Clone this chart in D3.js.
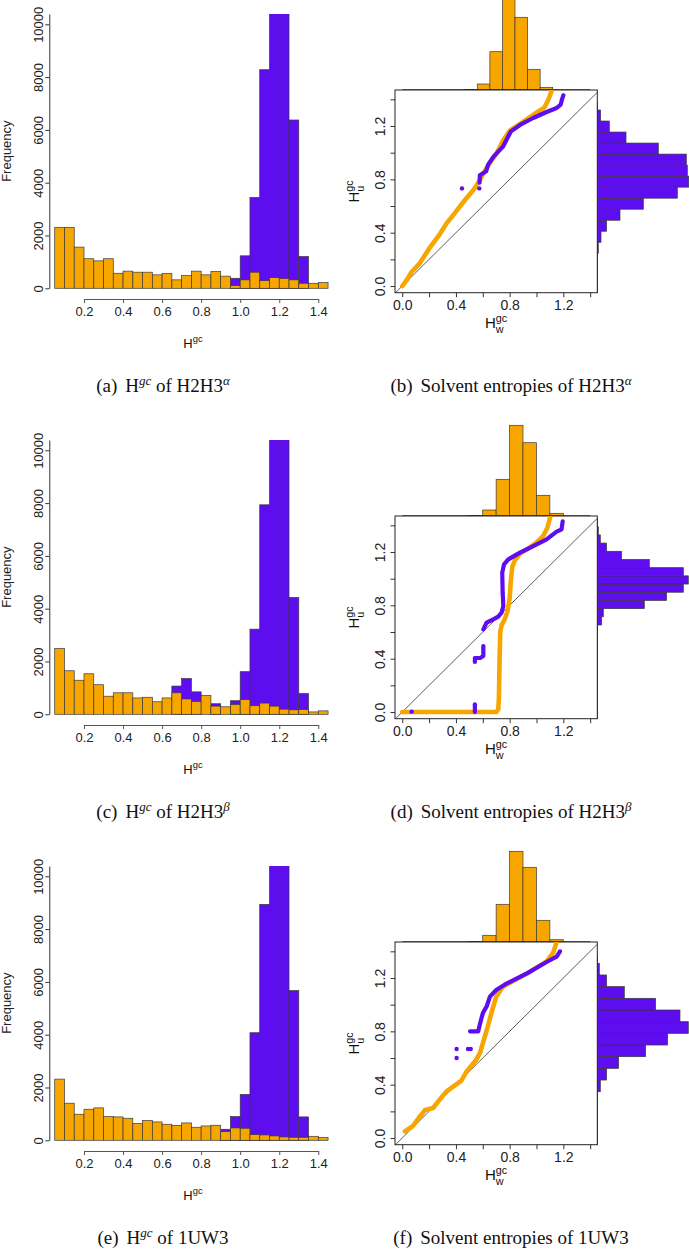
<!DOCTYPE html>
<html><head><meta charset="utf-8">
<script src="https://cdn.jsdelivr.net/npm/d3@7"></script>
<style>body{margin:0;background:#fff}svg{display:block}</style>
</head><body>
<svg id="c" width="689" height="1249"></svg>
<script>
// ---------------- DATA ----------------
const binStarts=[0.05,0.10,0.15,0.20,0.25,0.30,0.35,0.40,0.45,0.50,0.55,0.60,0.65,0.70,0.75,0.80,0.85,0.90,0.95,1.00,1.05,1.10,1.15,1.20,1.25,1.30,1.35,1.40];
const binWidth=0.05;
const histXTicks=[0.2,0.4,0.6,0.8,1.0,1.2,1.4];
const histYTicks=[0,2000,4000,6000,8000,10000];

const histA_orange=[2310,2310,1560,1120,1040,1120,570,650,610,610,510,560,320,480,650,510,635,460,100,320,610,290,405,370,320,190,190,215];
const histA_purple=[0,0,0,0,0,0,0,0,0,0,0,0,0,0,0,0,0,0,380,1230,3440,8280,11800,11600,6375,1205,0,0];
const histC_orange=[2490,1650,1290,1535,1120,685,815,815,620,645,475,620,815,580,490,710,310,285,375,555,325,425,310,195,170,180,90,130];
const histC_purple=[0,0,0,0,0,0,0,0,0,0,0,0,1070,1355,850,0,400,0,515,1615,3225,7935,11800,11700,4425,785,0,0];
const histE_orange=[2317,1405,987,1177,1228,899,886,835,633,747,696,608,557,658,494,544,570,329,468,456,215,203,165,127,114,114,152,101];
const histE_purple=[0,0,0,0,0,0,0,0,0,0,0,0,0,0,0,0,0,418,899,1740,4075,8937,11800,11600,5671,886,0,0];

const scatTicks=[0,0.2,0.4,0.6,0.8,1.0,1.2,1.4];
const scatLabels=[0,0.4,0.8,1.2];

// Q-Q curves (H_w, H_u)
const qqB_orange=[[0,0],[0.03,0.04],[0.07,0.105],[0.13,0.17],[0.2,0.28],[0.28,0.39],[0.33,0.47],[0.39,0.545],[0.455,0.63],[0.53,0.72],[0.57,0.78],[0.63,0.89],[0.70,0.99],[0.75,1.09],[0.80,1.165],[0.9,1.23],[1.0,1.3],[1.06,1.34],[1.09,1.40],[1.115,1.47]];
const qqB_purple=[[0.576,0.775],[0.578,0.83],[0.625,0.86],[0.64,0.91],[0.68,0.97],[0.75,1.045],[0.776,1.095],[0.81,1.16],[0.88,1.21],[0.975,1.26],[1.075,1.305],[1.15,1.335],[1.18,1.36],[1.19,1.40],[1.2,1.43]];
const qqB_dots=[[0.445,0.732],[0.574,0.732]];

const qqD_orange=[[0.0,0.0],[0.70,0.0],[0.715,0.02],[0.72,0.1],[0.725,0.4],[0.73,0.6],[0.74,0.65],[0.765,0.70],[0.785,0.76],[0.80,0.85],[0.81,1.0],[0.82,1.09],[0.84,1.14],[0.88,1.19],[0.93,1.22],[1.0,1.27],[1.05,1.32],[1.08,1.38],[1.105,1.47]];
const qqD_purple=[[0.604,0.62],[0.628,0.67],[0.678,0.695],[0.715,0.715],[0.74,0.745],[0.753,0.795],[0.748,0.895],[0.745,1.045],[0.758,1.1075],[0.79,1.145],[0.877,1.195],[0.976,1.245],[1.075,1.295],[1.15,1.3525],[1.187,1.37],[1.195,1.43]];
const qqD_purple2=[[0.541,0.0],[0.541,0.058]];
const qqD_purple3=[[0.541,0.375],[0.541,0.405],[0.58,0.405],[0.604,0.42],[0.604,0.495]];
const qqD_dots=[[0.07,0.003]];

const qqF_orange=[[0.02,0.05],[0.08,0.09],[0.13,0.16],[0.17,0.21],[0.23,0.225],[0.28,0.29],[0.33,0.35],[0.40,0.40],[0.44,0.43],[0.48,0.50],[0.55,0.585],[0.58,0.64],[0.60,0.71],[0.63,0.81],[0.665,0.94],[0.70,1.06],[0.75,1.135],[0.85,1.19],[0.93,1.235],[1.075,1.325],[1.125,1.39],[1.15,1.47]];
const qqF_purple=[[0.505,0.80],[0.566,0.80],[0.58,0.86],[0.60,0.935],[0.63,0.99],[0.653,1.06],[0.70,1.11],[0.78,1.16],[0.93,1.235],[1.075,1.32],[1.15,1.36],[1.175,1.40]];
const qqF_dots=[[0.405,0.60],[0.405,0.6675],[0.49,0.6675],[0.51,0.6675]];

// marginal histograms (counts)
const margTopBins=[0.5,0.6,0.7,0.8,0.9,1.0,1.1];
const margTopB=[40,600,3830,9500,7270,2070,270];
const margTopD=[40,600,3670,9070,7330,2070,270];
const margTopF=[40,670,3770,9070,7470,2170,230];

const margRightBinsB=[0.2,0.3,0.4,0.5,0.6,0.7,0.8,0.9,1.0,1.1,1.2,1.3,1.4];
const margRightB=[100,370,930,2270,4600,8000,9150,9000,8900,6100,2870,1200,330];
const margRightBinsD=[0.2,0.3,0.4,0.5,0.6,0.7,0.8,0.9,1.0,1.1,1.2,1.3];
const margRightD=[430,600,4700,6930,8600,9100,8600,5200,2430,930,300,100];
const margRightBinsF=[0.3,0.4,0.5,0.6,0.7,0.8,0.9,1.0,1.1,1.2,1.3];
const margRightF=[300,930,2130,4830,7030,9100,8270,5830,2700,930,200];

// ---------------- DRAW ----------------
const svg=d3.select('#c');
const SANS='"Liberation Sans", Arial, Helvetica, sans-serif';
const SERIF='"Liberation Serif", "Times New Roman", serif';
const ORANGE='#F7A600', PURPLE='#5E0CF0', EDGE='#3a3a3a';
const FS=13;
const ROW=426;
let clipId=0;

function mathLabel(parent,x,y,rot,base,sup,sub,size){
  const g=parent.append('g').attr('transform',`translate(${x},${y}) rotate(${rot})`);
  const g2=g.append('g');
  const t=g2.append('text').attr('x',0).attr('y',0).attr('font-family',SANS).attr('font-size',size).attr('fill','#111').text(base);
  const w0=t.node().getComputedTextLength();
  let w1=0;
  if(sup){const s=g2.append('text').attr('x',w0).attr('y',-size*0.42).attr('font-family',SANS).attr('font-size',size*0.72).attr('fill','#111').text(sup);w1=Math.max(w1,s.node().getComputedTextLength());}
  if(sub){const s=g2.append('text').attr('x',w0).attr('y',size*0.3).attr('font-family',SANS).attr('font-size',size*0.72).attr('fill','#111').text(sub);w1=Math.max(w1,s.node().getComputedTextLength());}
  g2.attr('transform',`translate(${-(w0+w1)/2},${size*0.36})`);
}

function drawHist(dy,orange,purple){
  const g=svg.append('g').attr('transform',`translate(0,${dy})`);
  const x=d3.scaleLinear().domain([0.2,1.4]).range([84,318.3]);
  const y=d3.scaleLinear().domain([0,10390]).range([288.3,14]);
  const id='clip'+(clipId++);
  g.append('clipPath').attr('id',id).append('rect').attr('x',40).attr('y',14).attr('width',300).attr('height',280);
  const bars=g.append('g').attr('clip-path',`url(#${id})`);
  [[purple,PURPLE],[orange,ORANGE]].forEach(([vals,col])=>{
    bars.selectAll(null).data(binStarts.map((b,i)=>({b,v:vals[i]})).filter(d=>d.v>0)).join('rect')
      .attr('x',d=>x(d.b)).attr('width',d=>x(d.b+binWidth)-x(d.b))
      .attr('y',d=>y(d.v)).attr('height',d=>y(0)-y(d.v))
      .attr('fill',col).attr('stroke',EDGE).attr('stroke-width',0.7);
  });
  const xa=g.append('g').attr('transform','translate(0,299)')
    .call(d3.axisBottom(x).tickValues(histXTicks).tickSize(4).tickSizeOuter(0).tickPadding(4).tickFormat(d3.format('.1f')));
  xa.selectAll('text').attr('font-family',SANS).attr('font-size',FS).attr('fill','#222');
  xa.selectAll('line,path').attr('stroke','#555');
  const ya=g.append('g').attr('transform','translate(49.3,0)')
    .call(d3.axisLeft(y).tickValues(histYTicks).tickSize(4).tickSizeOuter(0).tickFormat(d3.format('d')));
  ya.selectAll('line,path').attr('stroke','#333');
  ya.selectAll('text').attr('font-family',SANS).attr('font-size',FS).attr('fill','#222')
    .attr('x',0).attr('dy',0).attr('text-anchor','middle').attr('transform','translate(-6,0) rotate(-90)');
  g.append('text').attr('transform',`translate(11,${(14+288.3)/2}) rotate(-90)`).attr('text-anchor','middle')
    .attr('font-family',SANS).attr('font-size',FS).attr('fill','#222').text('Frequency');
  mathLabel(g,193,343,0,'H','gc',null,FS);
}

function drawScatter(dy,o){
  const g=svg.append('g').attr('transform',`translate(0,${dy})`);
  const L=395,R=597.3,T=90,B=292.7;
  const x=d3.scaleLinear().domain([-0.054,1.453]).range([L,R]);
  const y=d3.scaleLinear().domain([-0.05,1.47]).range([B,T]);
  // top marginal histogram
  const tx=d3.scaleLinear().domain([0.6,1.2]).range(o.topRange);
  const th=d3.scaleLinear().domain([0,10000]).range([0,100]);
  g.selectAll(null).data(margTopBins.map((b,i)=>({b,v:o.top[i]}))).join('rect')
    .attr('x',d=>tx(d.b)).attr('width',d=>tx(d.b+0.1)-tx(d.b))
    .attr('y',d=>T-th(d.v)).attr('height',d=>th(d.v))
    .attr('fill',ORANGE).attr('stroke',EDGE).attr('stroke-width',0.7);
  g.append('line').attr('x1',x(0)).attr('x2',x(1.4)).attr('y1',T).attr('y2',T).attr('stroke','#333').attr('stroke-width',1.4);
  // right marginal histogram
  const ry=d3.scaleLinear().domain(o.rightDomain).range(o.rightRange);
  const rw=d3.scaleLinear().domain([0,10000]).range([0,100]);
  g.selectAll(null).data(o.rightBins.map((b,i)=>({b,v:o.right[i]}))).join('rect')
    .attr('x',R).attr('width',d=>rw(d.v))
    .attr('y',d=>ry(d.b+0.1)).attr('height',d=>ry(d.b)-ry(d.b+0.1))
    .attr('fill',PURPLE).attr('stroke',EDGE).attr('stroke-width',0.7);
  g.append('line').attr('x1',R).attr('x2',R).attr('y1',o.rightRange[1]-8).attr('y2',B).attr('stroke','#333').attr('stroke-width',1.4);
  // box
  g.append('rect').attr('x',L).attr('y',T).attr('width',R-L).attr('height',B-T).attr('fill','#fff').attr('stroke','#222').attr('stroke-width',1);
  const id='clip'+(clipId++);
  g.append('clipPath').attr('id',id).append('rect').attr('x',L).attr('y',T).attr('width',R-L).attr('height',B-T);
  const pg=g.append('g').attr('clip-path',`url(#${id})`);
  pg.append('line').attr('x1',x(-0.054)).attr('y1',y(-0.054)).attr('x2',x(1.5)).attr('y2',y(1.5)).attr('stroke','#333').attr('stroke-width',0.8);
  const line=d3.line().x(d=>x(d[0])).y(d=>y(d[1]));
  o.orange.forEach(c=>pg.append('path').attr('d',line(c)).attr('fill','none').attr('stroke',ORANGE).attr('stroke-width',4.6).attr('stroke-linecap','round').attr('stroke-linejoin','round'));
  o.purple.forEach(c=>pg.append('path').attr('d',line(c)).attr('fill','none').attr('stroke',PURPLE).attr('stroke-width',4.2).attr('stroke-linecap','round').attr('stroke-linejoin','round'));
  pg.selectAll(null).data(o.dots).join('circle').attr('cx',d=>x(d[0])).attr('cy',d=>y(d[1])).attr('r',2.2).attr('fill',PURPLE);
  // axes
  const fmt=d=>scatLabels.some(v=>Math.abs(v-d)<1e-9)?d3.format('.1f')(d):'';
  const xa=g.append('g').attr('transform',`translate(0,${B})`).call(d3.axisBottom(x).tickValues(scatTicks).tickSize(4.5).tickSizeOuter(0).tickPadding(3).tickFormat(fmt));
  xa.select('path').remove();
  xa.selectAll('line').attr('stroke','#333');
  xa.selectAll('text').attr('font-family',SANS).attr('font-size',FS+1).attr('fill','#222');
  const ya=g.append('g').attr('transform',`translate(${L},0)`).call(d3.axisLeft(y).tickValues(scatTicks).tickSize(4.5).tickSizeOuter(0).tickFormat(fmt));
  ya.select('path').remove();
  ya.selectAll('line').attr('stroke','#333');
  ya.selectAll('text').attr('font-family',SANS).attr('font-size',FS+1).attr('fill','#222')
    .attr('x',0).attr('dy',0).attr('text-anchor','middle').attr('transform','translate(-10,0) rotate(-90)');
  mathLabel(g,(L+R)/2,323,0,'H','gc','w',FS+2);
  mathLabel(g,354,(T+B)/2,-90,'H','gc','u',FS+2);
}

function caption(cx,cy,label,parts){
  const t=svg.append('text').attr('x',cx).attr('y',cy).attr('text-anchor','middle')
    .attr('font-family',SERIF).attr('font-size',19).attr('fill','#111');
  t.append('tspan').text(label);
  let shifted=false;
  parts.forEach((p,i)=>{
    const s=t.append('tspan').text(p.t);
    if(i===0) s.attr('dx',8);
    if(p.sup){s.attr('font-size',13).attr('font-style','italic').attr('dy',-7);shifted=true;}
    else if(shifted){s.attr('dy',7);shifted=false;}
  });
}

drawHist(0,histA_orange,histA_purple);
drawHist(ROW,histC_orange,histC_purple);
drawHist(2*ROW,histE_orange,histE_purple);

drawScatter(0,{topRange:[477.3,552.7],top:margTopB,rightBins:margRightBinsB,right:margRightB,rightDomain:[0.2,1.5],rightRange:[253.3,110],
  orange:[qqB_orange],purple:[qqB_purple],dots:qqB_dots});
drawScatter(ROW,{topRange:[482.7,563.3],top:margTopD,rightBins:margRightBinsD,right:margRightD,rightDomain:[0.2,1.4],rightRange:[199,100.7],
  orange:[qqD_orange],purple:[qqD_purple,qqD_purple2,qqD_purple3],dots:qqD_dots});
drawScatter(2*ROW,{topRange:[482.7,563.3],top:margTopF,rightBins:margRightBinsF,right:margRightF,rightDomain:[0.3,1.4],rightRange:[239.7,111.3],
  orange:[qqF_orange],purple:[qqF_purple],dots:qqF_dots});

caption(163,392,'(a)',[{t:'H'},{t:'gc',sup:1},{t:' of H2H3'},{t:'α',sup:1}]);
caption(511,392,'(b)',[{t:'Solvent entropies of H2H3'},{t:'α',sup:1}]);
caption(163,392+ROW,'(c)',[{t:'H'},{t:'gc',sup:1},{t:' of H2H3'},{t:'β',sup:1}]);
caption(511,392+ROW,'(d)',[{t:'Solvent entropies of H2H3'},{t:'β',sup:1}]);
caption(163,392+2*ROW,'(e)',[{t:'H'},{t:'gc',sup:1},{t:' of 1UW3'}]);
caption(511,392+2*ROW,'(f)',[{t:'Solvent entropies of 1UW3'}]);
</script>
</body></html>
